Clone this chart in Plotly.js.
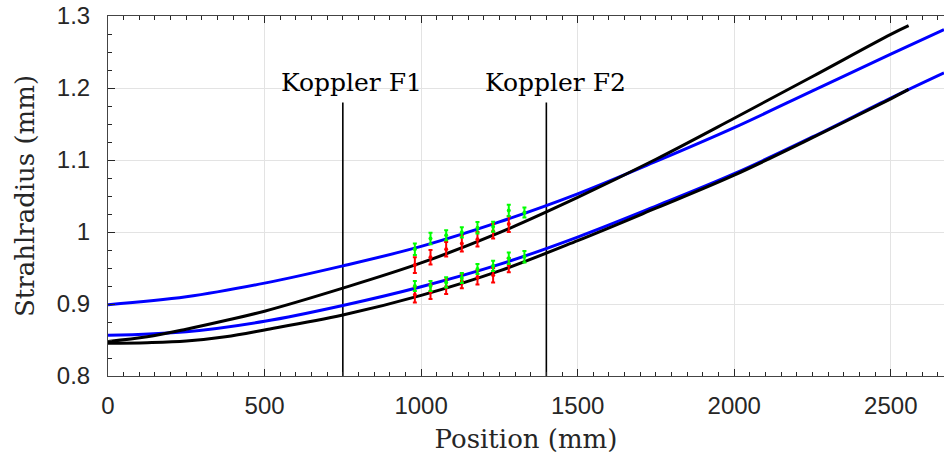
<!DOCTYPE html>
<html>
<head>
<meta charset="utf-8">
<script src="https://cdn.plot.ly/plotly-3.0.1.min.js"></script>
<style>html,body{margin:0;padding:0;background:#fff;}#chart{width:944px;height:456px;}</style>
</head>
<body>
<div id="chart"></div>
<script>
// ---- Beam radius curves (mm vs position in mm) ----
const blueUpperX = [0, 250, 500, 750, 1000, 1250, 1500, 1750, 2000, 2250, 2500, 2670];
const blueUpperY = [0.899, 0.910, 0.929, 0.953, 0.980, 1.014, 1.053, 1.098, 1.145, 1.196, 1.247, 1.281];

const blackUpperX = [0, 125, 250, 375, 500, 750, 1000, 1250, 1500, 1750, 2000, 2250, 2500, 2557];
const blackUpperY = [0.848, 0.8545, 0.865, 0.877, 0.890, 0.922, 0.957, 0.999, 1.048, 1.101, 1.158, 1.216, 1.2745, 1.2866];

const blueLowerX = [0, 250, 500, 750, 1000, 1250, 1500, 1750, 2000, 2250, 2500, 2670];
const blueLowerY = [0.8565, 0.8615, 0.876, 0.898, 0.924, 0.955, 0.993, 1.036, 1.081, 1.132, 1.186, 1.221];

const blackLowerX = [0, 125, 250, 375, 500, 750, 1000, 1250, 1500, 1750, 2000, 2250, 2500, 2557];
const blackLowerY = [0.8454, 0.8463, 0.8486, 0.8546, 0.864, 0.8847, 0.912, 0.946, 0.988, 1.033, 1.079, 1.131, 1.185, 1.198];

// ---- Measurements ----
const greenX = [980, 1030, 1080, 1130, 1180, 1230, 1280, 1330];
const greenUpperY = [0.976, 0.991, 0.9954, 0.9995, 1.006, 1.0074, 1.030, 1.027];
const greenUpperErr = [0.008, 0.008, 0.007, 0.007, 0.008, 0.007, 0.008, 0.007];
const greenLowerY = [0.925, 0.925, 0.930, 0.936, 0.9486, 0.953, 0.9635, 0.9657];
const greenLowerErr = [0.007, 0.007, 0.007, 0.007, 0.007, 0.007, 0.008, 0.008];

const redX = [980, 1030, 1080, 1130, 1180, 1230, 1280];
const redUpperY = [0.954, 0.965, 0.976, 0.984, 0.990, 1.001, 1.011];
const redUpperErr = [0.011, 0.010, 0.010, 0.011, 0.010, 0.010, 0.011];
const redLowerY = [0.913, 0.917, 0.924, 0.932, 0.937, 0.940, 0.954];
const redLowerErr = [0.011, 0.010, 0.010, 0.010, 0.010, 0.010, 0.010];

// ---- Couplers ----
const couplerNames = ['Koppler F1', 'Koppler F2'];
const couplerX = [750, 1400];
const couplerBottom = 0.8;
const couplerTop = 1.18;
const couplerLabelX = [779, 1430];
const couplerLabelY = 1.208;

const serif = 'DejaVu Serif, Liberation Serif, serif';
const sans = 'Liberation Sans, Arial, Helvetica, sans-serif';

function curve(x, y, color) {
  return {x: x, y: y, type: 'scatter', mode: 'lines',
          line: {color: color, width: 3, shape: 'spline', smoothing: 1.0},
          hoverinfo: 'skip', showlegend: false};
}
function meas(x, y, err, color) {
  return {x: x, y: y, type: 'scatter', mode: 'markers',
          marker: {color: color, size: 4},
          error_y: {type: 'data', array: err, visible: true, color: color, thickness: 2, width: 2},
          showlegend: false};
}

const traces = [];
couplerX.forEach(function (cx) {
  traces.push({x: [cx, cx], y: [couplerBottom, couplerTop], type: 'scatter', mode: 'lines',
               line: {color: '#000', width: 1.6}, showlegend: false, hoverinfo: 'skip'});
});
traces.push(curve(blueUpperX, blueUpperY, '#0000ff'));
traces.push(curve(blueLowerX, blueLowerY, '#0000ff'));
traces.push(curve(blackUpperX, blackUpperY, '#000000'));
traces.push(curve(blackLowerX, blackLowerY, '#000000'));
traces.push(meas(redX, redUpperY, redUpperErr, '#ff0000'));
traces.push(meas(redX, redLowerY, redLowerErr, '#ff0000'));
traces.push(meas(greenX, greenUpperY, greenUpperErr, '#00ff00'));
traces.push(meas(greenX, greenLowerY, greenLowerErr, '#00ff00'));

const annotations = couplerNames.map(function (n, i) {
  return {x: couplerLabelX[i], y: couplerLabelY, xref: 'x', yref: 'y', text: n, showarrow: false,
          font: {family: serif, size: 25, color: '#000'}, xanchor: 'center', yanchor: 'middle'};
});

const layout = {
  width: 944, height: 456,
  margin: {l: 108, r: 0, t: 16, b: 80},
  paper_bgcolor: '#fff', plot_bgcolor: '#fff',
  showlegend: false,
  xaxis: {
    range: [0, 2670], tickmode: 'linear', tick0: 0, dtick: 500,
    ticks: 'inside', ticklen: 7, tickcolor: '#262626', tickwidth: 1,
    showline: true, linecolor: '#444444', linewidth: 1, mirror: 'allticks',
    showgrid: true, gridcolor: '#e3e3e3', gridwidth: 1, zeroline: false,
    minor: {ticks: 'inside', dtick: 50, ticklen: 4, tickcolor: '#262626', tickwidth: 1},
    tickfont: {family: sans, size: 24, color: '#262626'},
    ticklabelstandoff: 8,
    title: {text: 'Position (mm)', font: {family: serif, size: 26, color: '#262626'}, standoff: 12}
  },
  yaxis: {
    range: [0.8, 1.3], tickmode: 'linear', tick0: 0.8, dtick: 0.1,
    ticks: 'inside', ticklen: 7, tickcolor: '#262626', tickwidth: 1,
    showline: true, linecolor: '#444444', linewidth: 1, mirror: false,
    showgrid: true, gridcolor: '#e3e3e3', gridwidth: 1, zeroline: false,
    minor: {ticks: 'inside', dtick: 0.025, ticklen: 4, tickcolor: '#262626', tickwidth: 1},
    tickfont: {family: sans, size: 24, color: '#262626'},
    ticklabelstandoff: 12,
    title: {text: 'Strahlradius (mm)', font: {family: serif, size: 26, color: '#262626'}, standoff: 14}
  },
  annotations: annotations
};

Plotly.newPlot('chart', traces, layout, {displayModeBar: false});
</script>
</body>
</html>
